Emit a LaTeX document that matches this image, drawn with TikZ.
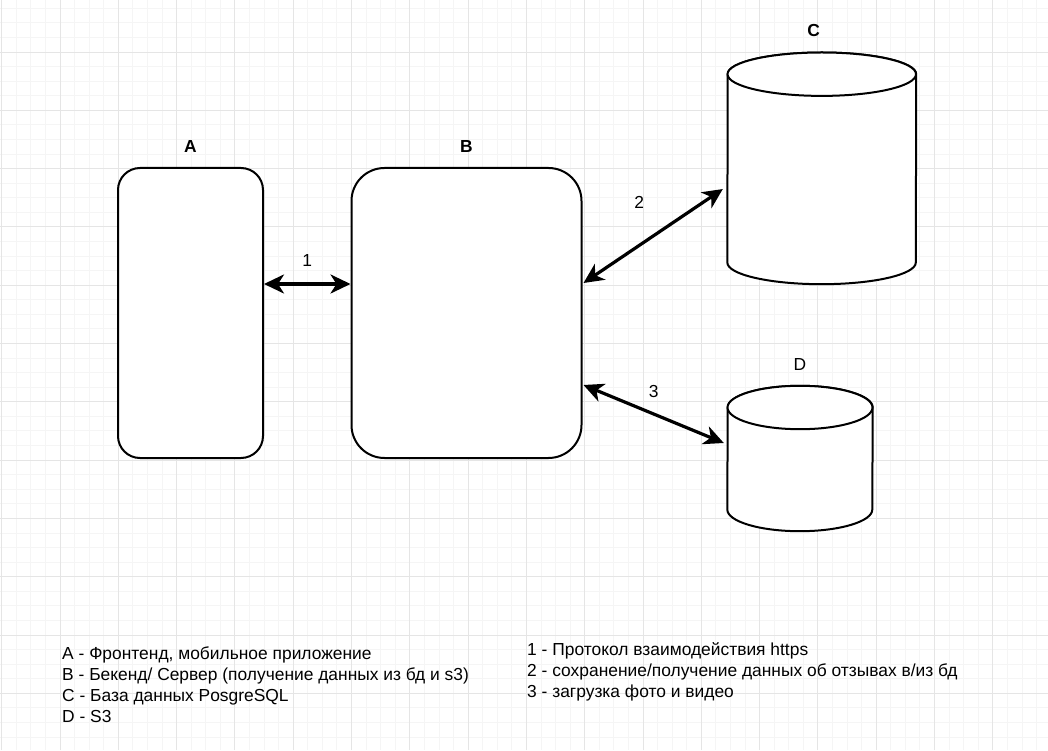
\documentclass[tikz,border=0pt]{standalone}
\usepackage{fontspec}
\setmainfont{Liberation Sans}
\usetikzlibrary{arrows.meta,positioning}

\begin{document}
\begin{tikzpicture}[
    x=1pt, y=1pt,
    block/.style={rectangle, draw, line width=2pt, fill=white, rounded corners=22pt},
    store/.style={rectangle, inner sep=0pt},
    dbline/.style={line width=2pt, fill=white, line join=round},
    tag/.style={inner sep=0pt, font=\fontsize{17.4}{21}\selectfont\bfseries},
    num/.style={inner sep=0pt, font=\fontsize{17.4}{21}\selectfont},
    link/.style={{Stealth[length=20pt,width=19pt,inset=6pt]}-{Stealth[length=20pt,width=19pt,inset=6pt]}, line width=3.2pt},
    minorgrid/.style={draw=black!4, line width=0.9pt},
    majorgrid/.style={draw=black!10, line width=0.9pt}
]
\useasboundingbox (0,0) rectangle (1048,750);

% grid
\fill[white] (0,0) rectangle (1048,750);
\foreach \i in {0,...,72} \draw[minorgrid] (1.7+\i*14.575,0) -- ++(0,750);
\foreach \j in {0,...,52} \draw[minorgrid] (0,756.3-\j*14.575) -- ++(1048,0);
\foreach \i in {0,...,17} \draw[majorgrid] (1.7+\i*58.3,0) -- ++(0,750);
\foreach \j in {0,...,13} \draw[majorgrid] (0,756.3-\j*58.3) -- ++(1048,0);

% blocks
\node[block, minimum width=145pt, minimum height=290pt] (A) at (190.5,437) {};
\node[block, rounded corners=33pt, minimum width=230pt, minimum height=290pt, right=86.5pt of A] (B) {};
\node[store, minimum width=188.5pt, minimum height=231.3pt] (C) at (821.75,581.65) {};
\node[store, minimum width=145pt, minimum height=145pt] (D) at (800,291.5) {};

% cylinders
\draw[dbline] ([yshift=-21.7pt]C.north east) arc[start angle=0, end angle=180, x radius=94.25pt, y radius=21.7pt]
    -- ([yshift=21.7pt]C.south west)
    arc[start angle=180, end angle=360, x radius=94.25pt, y radius=21.7pt] -- cycle;
\draw[dbline] ([yshift=-21.7pt]C.north) ellipse[x radius=94.25pt, y radius=21.7pt];
\draw[dbline] ([yshift=-21.7pt]D.north east) arc[start angle=0, end angle=180, x radius=72.5pt, y radius=21.7pt]
    -- ([yshift=21.7pt]D.south west)
    arc[start angle=180, end angle=360, x radius=72.5pt, y radius=21.7pt] -- cycle;
\draw[dbline] ([yshift=-21.7pt]D.north) ellipse[x radius=72.5pt, y radius=21.7pt];

% titles
\node[tag, above=14pt of A] (labA) {A};
\node[tag, above=14pt of B] (labB) {B};
\node[tag, above=16pt of C, xshift=-8pt] (labC) {C};
\node[num, above=15pt of D] (labD) {D};

% links
\draw[link] ([yshift=29pt]A.east) -- node[num, above=16pt] (n1) {1} ([yshift=29pt]B.west);
\draw[link] ([xshift=1pt,yshift=30pt]B.east) -- node[num, above=26pt, xshift=-14pt] (n2) {2} ([xshift=-4.5pt,yshift=-20.7pt]C.west);
\draw[link] ([xshift=1pt,yshift=-72pt]B.east) -- node[num, above=15pt] (n3) {3} ([xshift=-3.5pt,yshift=15.5pt]D.west);

% legend
\node[num, anchor=north west, align=left] (keyL) at (62,103.5) {A - Фронтенд, мобильное приложение\\B - Бекенд/ Сервер (получение данных из бд и s3)\\C - База данных PosgreSQL\\D - S3};
\node[num, anchor=north west, align=left] (keyR) at (527,107.5) {1 - Протокол взаимодействия https\\2 - сохранение/получение данных об отзывах в/из бд\\3 - загрузка фото и видео};

\end{tikzpicture}
\end{document}
